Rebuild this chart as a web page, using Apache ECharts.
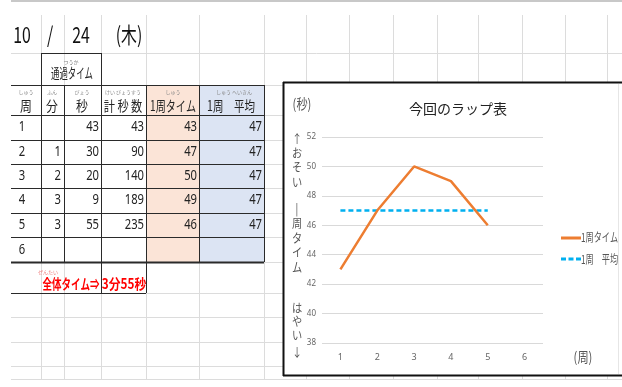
<!DOCTYPE html>
<html><head><meta charset="utf-8">
<script src="https://cdn.jsdelivr.net/npm/echarts@6/dist/echarts.min.js"></script>
<style>html,body{margin:0;padding:0;background:#fff}#c{width:622px;height:387px}</style>
</head><body><div id="c"></div>
<script>
// ---- data ----
const weeks = ['1','2','3','4','5','6'];
const lapNo = ['1','2','3','4','5','6'];
const minutes = ['', '1', '2', '3', '3', ''];
const seconds = ['43', '30', '20', '9', '55', ''];
const totalSeconds = ['43', '90', '140', '189', '235', ''];
const lapTime = [43, 47, 50, 49, 46, null];
const lapAverage = [47, 47, 47, 47, 47, null];
const headers = ['周', '分', '秒', '計 秒 数', '1周タイム', '1周　平均'];
const furigana = ['しゅう', 'ふん', 'びょう', 'けい びょうすう', 'しゅう', 'しゅう へいきん'];
const seriesNames = ['1周タイム', '1周　平均'];
const dateText = ['10', '/', '24', '(木)'];
const totalLabel = '全体タイム⇒';
const totalValue = '3分55秒';
const yMin = 38, yMax = 52, yStep = 2;

const JP = '"Noto Sans CJK JP", sans-serif';
const NUM = '"Noto Sans", sans-serif';
const g = [];
function line(x1,y1,x2,y2,c,w){g.push({type:'line',silent:true,shape:{x1,y1,x2,y2},style:{stroke:c,lineWidth:w||1}});}
function rect(x,y,w,h,fill){g.push({type:'rect',silent:true,shape:{x,y,width:w,height:h},style:{fill}});}
function txt(t,x,y,opt,sx){g.push({type:'text',silent:true,x,y,scaleX:sx||1,z:10,style:Object.assign({text:t,fill:'#222',font:'14px '+JP,textAlign:'center',textVerticalAlign:'middle'},opt||{})});}

// spreadsheet background grid
const gridC = '#dcdcdc';
line(0,1,622,1,'#c8c8c8',2);
[41,64,101,146,199,264,306,349,393,437,478,522,565,607].forEach(x=>line(x+0.5,15,x+0.5,379,gridC,1));
[53,85,115,140,164,188,213,237,262,293,317,342,366,379].forEach(y=>line(11,y+0.5,622,y+0.5,gridC,1));
rect(0,0,11,387,'#fff');
rect(0,2,622,13,'#fff');

// column fills
rect(146,85,53,177,'#fbe4d7');
rect(199,85,65,177,'#dce4f3');

// table borders
const cols = [11,41,64,101,146,199,264];
const rows = [85,115,140,164,188,213,237,262];
const bc = '#2a2a2a';
rows.forEach((y,i)=>line(11,y+0.5,264,y+0.5,bc,(i===rows.length-1)?2:1));
cols.slice(1).forEach(x=>line(x+0.5,85,x+0.5,262,bc,1));
// 通過タイム box
line(41.5,53,41.5,85,bc,1); line(101.5,53,101.5,85,bc,1); line(41,53.5,101,53.5,bc,1);
txt('つうか',71,62,{font:'5px '+JP,fill:'#777'});
txt('通過タイム',72,73,{font:'14px '+JP},0.6);
// total box
line(11,293.5,146,293.5,bc,1); line(101.5,262,101.5,293,bc,1); line(146.5,262,146.5,293,bc,1);

// date
const dx = [22,50,81,129];
dateText.forEach((t,i)=>txt(t,dx[i],35,{font:'22px '+JP,fill:'#111'},0.72));

// headers
const hc = [26,52,82,123,173,231];
const hs = [0.85,0.85,0.85,0.8,0.72,0.75];
headers.forEach((h,i)=>{
  txt(furigana[i],hc[i]+(i===5?3:0),92,{font:'5px '+JP,fill:'#888'});
  txt(h,hc[i],106,{font:'14px '+JP,fill:'#222'},hs[i]);
});
// body
const rc = [127,152,176,200,225,250];
const nf = {font:'15px '+NUM,textAlign:'right'};
for(let r=0;r<6;r++){
  const y=rc[r];
  txt(lapNo[r],22,y,{font:'15px '+NUM,textAlign:'center'},0.75);
  txt(minutes[r],61,y,nf,0.75);
  txt(seconds[r],99,y,nf,0.75);
  txt(totalSeconds[r],144,y,nf,0.75);
  txt(lapTime[r]==null?'':String(lapTime[r]),197,y,nf,0.75);
  txt(lapAverage[r]==null?'':String(lapAverage[r]),262,y,nf,0.75);
}
txt('ぜんたい',48,272,{font:'5px '+JP,fill:'#f08080'});
txt(totalLabel,71,284,{font:'bold 14px '+JP,fill:'#ff0000'},0.68);
txt(totalValue,124,284,{font:'bold 14px '+JP,fill:'#ff0000'},0.84);

// chart frame
rect(283,82,339,294,'#fff');
line(283,82.5,622,82.5,'#111',2);
line(283,375.5,622,375.5,'#111',2);
line(283.5,82,283.5,376,'#111',2);
line(618.5,84,618.5,374,'#e6e6e6',1);

// chart texts
txt('(秒)',302,104,{font:'14px '+JP,fill:'#555'},0.8);
txt('(周)',583,357,{font:'14px '+JP,fill:'#555'},0.8);
const vChars = ['↑','お','そ','い','|','周','タ','イ','ム','は','や','い','↓'];
const vY = [139,153,167,182,208,223,238,252,267,308,321,335,352];
vChars.forEach((c,i)=>txt(c,297,vY[i],{font:'12px '+JP,fill:'#555'},0.85));
// legend labels (condensed)
const legY = [237,259];
seriesNames.forEach((n,i)=>txt(n,581,legY[i],{font:'12px '+JP,fill:'#555',textAlign:'left'},0.68));

const solidIcon = 'path://M0,0H20V3H0Z';
const dashIcon = 'path://M0,0H5V3H0Z M7.5,0H12.5V3H7.5Z M15,0H20V3H15Z';

const chart = echarts.init(document.getElementById('c'));
chart.setOption({
  animation:false,
  backgroundColor:'#fff',
  graphic:{elements:g},
  title:{text:'今回のラップ表',left:453,top:97,textAlign:'center',textStyle:{fontFamily:JP,fontSize:14,fontWeight:'normal',color:'#222'}},
  legend:{orient:'vertical',left:556,top:229,itemWidth:20,itemHeight:3,itemGap:13,
    formatter:()=>' ',textStyle:{fontSize:8,color:'rgba(0,0,0,0)'},
    data:[{name:seriesNames[0],icon:solidIcon},{name:seriesNames[1],icon:dashIcon}]},
  grid:{left:322,right:79,top:137,bottom:44},
  xAxis:{type:'category',data:weeks,boundaryGap:true,axisLine:{show:false},axisTick:{show:false},
    axisLabel:{fontFamily:NUM,fontSize:9,color:'#666',margin:10}},
  yAxis:{type:'value',min:yMin,max:yMax,interval:yStep,axisLine:{show:false},axisTick:{show:false},
    axisLabel:{fontFamily:NUM,fontSize:8,color:'#666',margin:6},
    splitLine:{lineStyle:{color:'#d9d9d9',width:1}}},
  series:[
    {name:seriesNames[0],type:'line',data:lapTime,symbol:'none',lineStyle:{color:'#ed7d31',width:2.5},itemStyle:{color:'#ed7d31'},z:3},
    {name:seriesNames[1],type:'line',data:lapAverage,symbol:'none',lineStyle:{color:'#00b0f0',width:2.5,type:[5,3]},itemStyle:{color:'#00b0f0'},z:2}
  ]
});
</script></body></html>
